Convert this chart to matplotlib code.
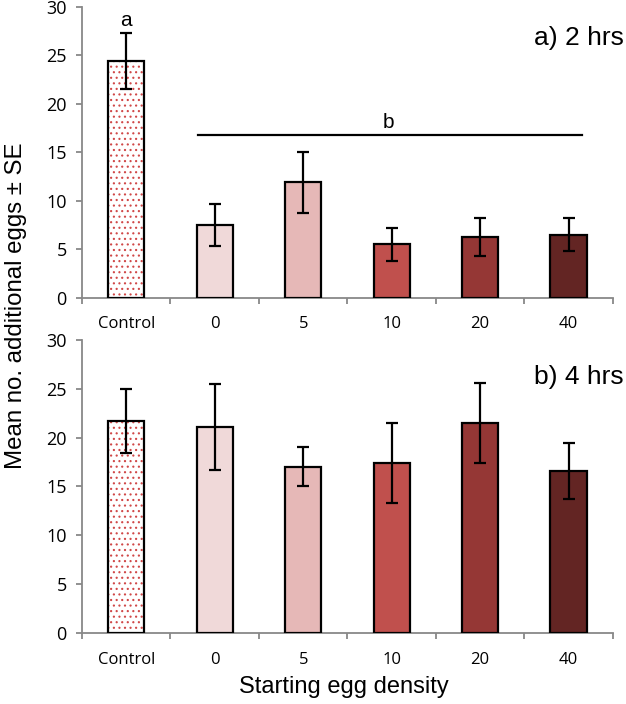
import matplotlib.pyplot as plt

plt.rcParams['font.family'] = ['Open Sans', 'DejaVu Sans']
plt.rcParams['hatch.linewidth'] = 0.8

# data
categories = ['Control', '0', '5', '10', '20', '40']
colors = ['white', '#f0d9d9', '#e6b8b7', '#c0504d', '#953735', '#632523']

means_2h = [24.4, 7.5, 11.9, 5.5, 6.3, 6.5]
se_2h = [2.9, 2.15, 3.1, 1.75, 1.95, 1.7]

means_4h = [21.7, 21.1, 17.0, 17.4, 21.5, 16.6]
se_4h = [3.3, 4.4, 2.0, 4.1, 4.1, 2.85]

panel_labels = ['a) 2 hrs', 'b) 4 hrs']
arial = ['Liberation Sans', 'DejaVu Sans']

fig = plt.figure(figsize=(6.26, 7.04), dpi=100)
ax1 = fig.add_axes([0.131, 0.577, 0.848, 0.413])
ax2 = fig.add_axes([0.131, 0.101, 0.848, 0.416])

x = list(range(len(categories)))
width = 0.41


def draw_panel(ax, means, se, label, label_y, xpad):
    # control bar: red dotted fill, then black outline on top
    ax.bar(x[0], means[0], width, color='white', edgecolor='#d04848',
           hatch='...', linewidth=0, zorder=2)
    ax.bar(x, means, width, color=['none'] + colors[1:], edgecolor='black',
           linewidth=1.6, zorder=3)
    ax.errorbar(x, means, yerr=se, fmt='none', ecolor='black', elinewidth=1.6,
                capsize=4, capthick=1.6, zorder=4)

    ax.set_xlim(-0.5, len(categories) - 0.5)
    ax.set_ylim(0, 30)
    ax.set_yticks(range(0, 31, 5))
    ax.set_xticks(x)
    ax.set_xticklabels(categories)
    ax.set_xticks([i - 0.5 for i in range(len(categories) + 1)], minor=True)
    ax.tick_params(axis='x', which='major', length=0, pad=xpad, labelsize=12)
    ax.tick_params(axis='x', which='minor', length=4.5, color='#888888', width=1.3)
    ax.tick_params(axis='y', length=4, color='#888888', width=1.3,
                   labelsize=13, pad=7)
    for s in ['top', 'right']:
        ax.spines[s].set_visible(False)
    for s in ['left', 'bottom']:
        ax.spines[s].set_color('#888888')
        ax.spines[s].set_linewidth(1.3)
    ax.text(1.02, label_y, label, transform=ax.transAxes, ha='right',
            va='center', fontsize=19, family=arial)


draw_panel(ax1, means_2h, se_2h, panel_labels[0], 0.893, 13)
draw_panel(ax2, means_4h, se_4h, panel_labels[1], 0.875, 14)

# significance letters on the 2 hrs panel
ax1.text(0, 28.6, 'a', ha='center', va='center', fontsize=15, family=arial)
ax1.plot([0.81, 5.15], [16.8, 16.8], color='black', linewidth=1.6)
ax1.text(2.96, 18.1, 'b', ha='center', va='center', fontsize=15, family=arial)

fig.text(0.026, 0.565, 'Mean no. additional eggs ± SE', rotation=90,
         ha='center', va='center', fontsize=17.3, family=arial)
fig.text(0.550, 0.024, 'Starting egg density', ha='center', va='center',
         fontsize=17, family=arial)

fig.savefig('out.png', dpi=100)
